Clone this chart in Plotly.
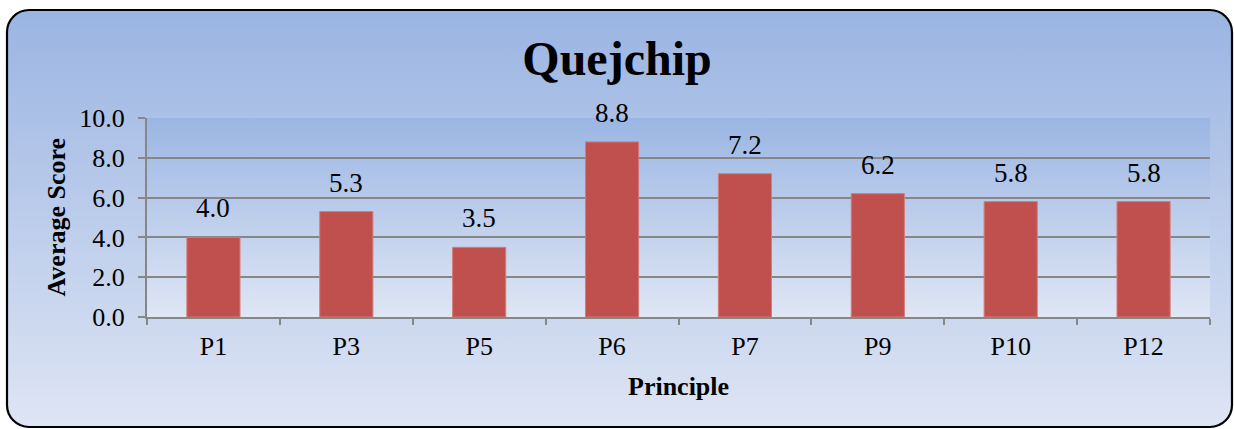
import base64
import plotly.graph_objects as go

# Average score per principle
principles = ["P1", "P3", "P5", "P6", "P7", "P9", "P10", "P12"]
scores = [4.0, 5.3, 3.5, 8.8, 7.2, 6.2, 5.8, 5.8]
y_ticks = [0.0, 2.0, 4.0, 6.0, 8.0, 10.0]

W, H = 1234, 429
ML, MR, MT, MB = 147, 24, 118, 112
PW, PH = W - ML - MR, H - MT - MB

SERIF = "Liberation Serif"
BAR = "#C0504D"
GRID = "#878787"

# Card background: rounded frame plus gradient-filled plotting area
svg = f"""<svg xmlns='http://www.w3.org/2000/svg' width='{W}' height='{H}' viewBox='0 0 {W} {H}'>
<defs>
<linearGradient id='card' x1='0' y1='0' x2='0' y2='1'>
<stop offset='0' stop-color='#9AB4E2'/><stop offset='1' stop-color='#DEE5F4'/></linearGradient>
<linearGradient id='plot' x1='0' y1='0' x2='0' y2='1'>
<stop offset='0' stop-color='#9BB6E3'/><stop offset='1' stop-color='#DFE6F4'/></linearGradient>
</defs>
<rect width='{W}' height='{H}' fill='white'/>
<rect x='7' y='10' width='{W - 9}' height='{H - 12}' rx='22' ry='22' fill='url(#card)' stroke='black' stroke-width='2.2'/>
<rect x='{ML}' y='{MT}' width='{PW}' height='{PH}' fill='url(#plot)'/>
</svg>"""
bg_src = "data:image/svg+xml;base64," + base64.b64encode(svg.encode()).decode()

fig = go.Figure(
    go.Bar(
        x=principles,
        y=scores,
        marker=dict(color=BAR, line=dict(color="#D47C79", width=1)),
        hoverinfo="x+y",
    )
)

# Value labels sitting above each bar
for p, s in zip(principles, scores):
    fig.add_annotation(
        x=p, y=s, text=f"{s:.1f}", showarrow=False,
        xanchor="center", yanchor="bottom", yshift=12,
        font=dict(family=SERIF, size=27, color="black"),
    )

# Axis titles
fig.add_annotation(
    x=(56 - ML) / PW, y=0.5, xref="paper", yref="paper",
    xanchor="center", yanchor="middle",
    text="<b>Average Score</b>", textangle=-90, showarrow=False,
    font=dict(family=SERIF, size=26, color="black"),
)
fig.add_annotation(
    x=0.5, y=(MT + PH - 386) / PH, xref="paper", yref="paper",
    xanchor="center", yanchor="middle",
    text="<b>Principle</b>", showarrow=False,
    font=dict(family=SERIF, size=26, color="black"),
)

fig.add_layout_image(
    source=bg_src, xref="paper", yref="paper",
    x=-ML / PW, y=(MT + PH) / PH, sizex=W / PW, sizey=H / PH,
    xanchor="left", yanchor="top", sizing="stretch", layer="below",
)

fig.update_layout(
    width=W, height=H,
    margin=dict(l=ML, r=MR, t=MT, b=MB),
    paper_bgcolor="rgba(0,0,0,0)",
    plot_bgcolor="rgba(0,0,0,0)",
    bargap=0.6,
    showlegend=False,
    title=dict(
        text="<b>Quejchip</b>", x=0.5, xref="container", xanchor="center",
        y=1 - 58 / H, yref="container", yanchor="middle",
        font=dict(family=SERIF, size=48, color="black"),
    ),
    xaxis=dict(
        type="category", tickson="boundaries", ticks="outside", ticklen=6,
        tickcolor=GRID, tickwidth=2, showline=True, linecolor=GRID, linewidth=2,
        showgrid=False, tickfont=dict(family=SERIF, size=26, color="black"),
        ticklabelstandoff=5,
    ),
    yaxis=dict(
        range=[0, 10], tickvals=y_ticks, tickformat=".1f",
        ticks="outside", ticklen=7, tickcolor=GRID, tickwidth=2,
        showline=True, linecolor=GRID, linewidth=2,
        showgrid=True, gridcolor=GRID, gridwidth=2, zeroline=False,
        tickfont=dict(family=SERIF, size=26, color="black"),
        ticklabelstandoff=8,
    ),
)

fig.write_html("out.html")
